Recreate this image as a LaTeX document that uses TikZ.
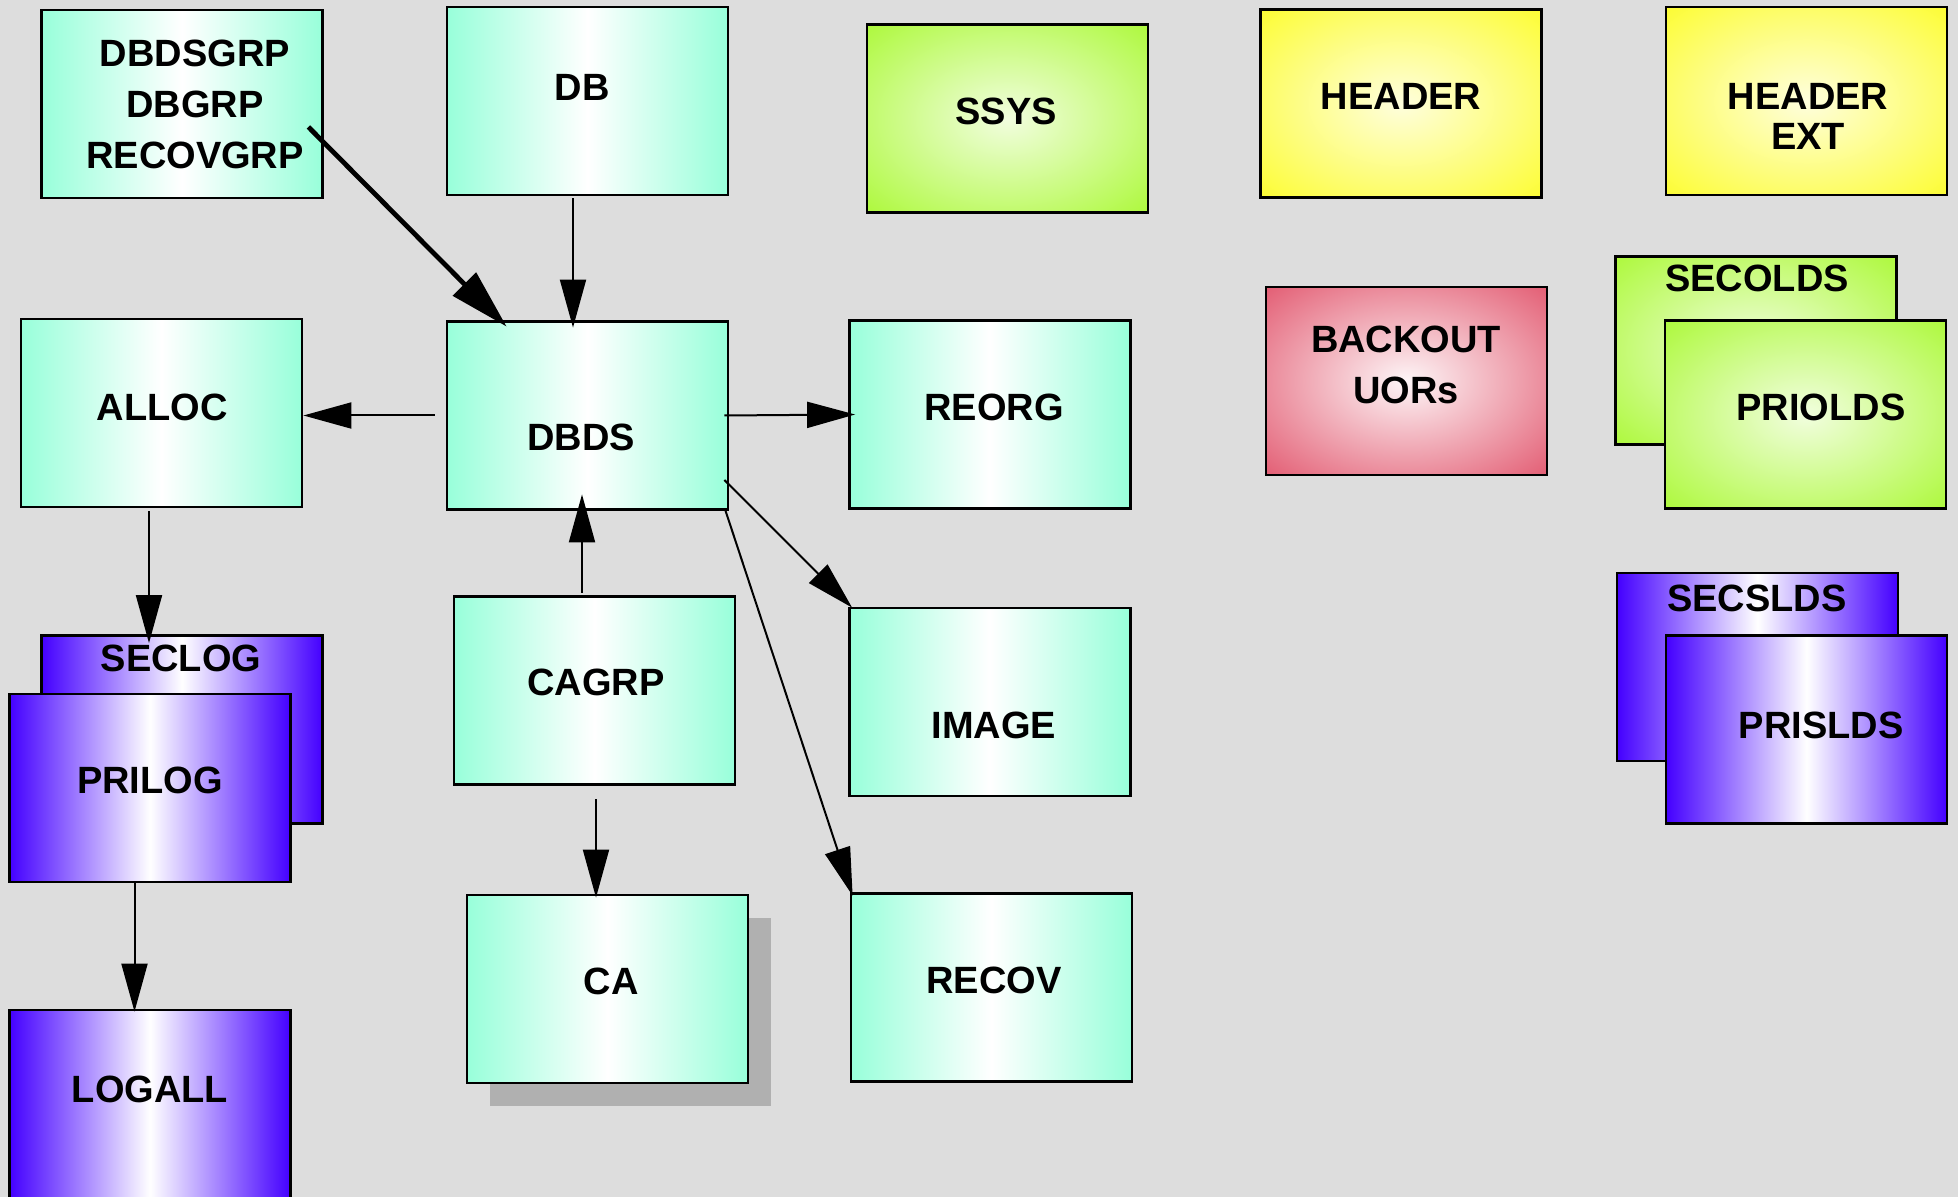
\documentclass[tikz,border=0pt]{standalone}
\usepackage{fontspec}
\setmainfont{Liberation Sans}
\usetikzlibrary{arrows.meta,calc}

\definecolor{bgray}{RGB}{221,221,221}
\definecolor{aqua}{RGB}{152,255,218}
\definecolor{logblue}{RGB}{68,0,255}
\definecolor{oldsgreen}{RGB}{165,248,40}
\definecolor{hdryellow}{RGB}{252,252,30}
\definecolor{uorred}{RGB}{222,66,92}
\definecolor{shadowgray}{RGB}{176,176,176}
\colorlet{oldsin}{oldsgreen!15!white}
\colorlet{hdrin}{hdryellow!15!white}
\colorlet{uorin}{uorred!5!white}

\pgfdeclareradialshading{greenglow}{\pgfpoint{0bp}{0bp}}{color(0bp)=(oldsin); color(40bp)=(oldsgreen); color(100bp)=(oldsgreen)}
\pgfdeclareradialshading{yellowglow}{\pgfpoint{0bp}{0bp}}{color(0bp)=(hdrin); color(40bp)=(hdryellow); color(100bp)=(hdryellow)}
\pgfdeclareradialshading{redglow}{\pgfpoint{0bp}{0bp}}{color(0bp)=(uorin); color(42bp)=(uorred); color(100bp)=(uorred)}

\begin{document}
\begin{tikzpicture}[x=0.5pt, y=-0.5pt,
  box/.style={draw, line width=1.4pt, inner sep=0pt, minimum width=140.5pt, minimum height=94pt},
  tealbox/.style={box, left color=aqua, right color=aqua, middle color=white},
  logbox/.style={box, left color=logblue, right color=logblue, middle color=white},
  oldsbox/.style={box, shade, shading=greenglow},
  hdrbox/.style={box, shade, shading=yellowglow},
  uorbox/.style={box, shade, shading=redglow},
  lbl/.style={font=\fontsize{19}{25.5}\selectfont\bfseries, align=center, inner sep=0pt},
  arr/.style={-{Triangle[length=24pt,width=13pt]}, line width=1pt},
  bigarr/.style={-{Triangle[length=30pt,width=16pt]}, line width=2.4pt}]

  \useasboundingbox (0,0) rectangle (1958,1197);
  \clip (0,0) rectangle (1958,1197);
  \fill[bgray] (0,0) rectangle (1958,1197);

  %% top row
  \node[tealbox] (dbdsgrp) at (182,104) {};
  \node[lbl, text depth=0pt] (t-dbdsgrp) at (195,104.5) {DBDSGRP\\DBGRP\\RECOVGRP};
  \node[tealbox] (db) at (587.5,101) {};
  \node[lbl] (t-db) at (582,87) {DB};
  \node[oldsbox] (ssys) at (1007.5,118.5) {};
  \node[lbl] (t-ssys) at (1006,111) {SSYS};
  \node[hdrbox] (header) at (1401,103.5) {};
  \node[lbl] (t-header) at (1401,96) {HEADER};
  \node[hdrbox] (headerext) at (1806.5,101) {};
  \node[lbl, font=\fontsize{19}{20}\selectfont\bfseries] (t-headerext) at (1808,116) {HEADER\\EXT};

  %% middle row
  \node[tealbox] (alloc) at (161.5,413) {};
  \node[lbl] (t-alloc) at (162,407) {ALLOC};
  \node[tealbox] (dbds) at (587.5,415.5) {};
  \node[lbl] (t-dbds) at (581,437) {DBDS};
  \node[tealbox] (reorg) at (990,414.5) {};
  \node[lbl] (t-reorg) at (994,407) {REORG};
  \node[uorbox] (backout) at (1406.5,381) {};
  \node[lbl] (t-backout) at (1406,365) {BACKOUT\\UORs};
  \node[oldsbox] (secolds) at (1756,350.5) {};
  \node[lbl] (t-secolds) at (1757,278) {SECOLDS};
  \node[oldsbox] (priolds) at (1805.5,414.5) {};
  \node[lbl] (t-priolds) at (1821,407) {PRIOLDS};

  %% lower rows
  \node[logbox] (seclog) at (182,729.5) {};
  \node[lbl] (t-seclog) at (181,658) {SECLOG};
  \node[logbox] (prilog) at (150,788) {};
  \node[lbl] (t-prilog) at (150,780) {PRILOG};
  \node[tealbox] (cagrp) at (594.5,690.5) {};
  \node[lbl] (t-cagrp) at (596,682) {CAGRP};
  \node[tealbox] (image) at (990,702) {};
  \node[lbl] (t-image) at (994,725) {IMAGE};
  \node[logbox] (secslds) at (1757.5,667) {};
  \node[lbl] (t-secslds) at (1757,598) {SECSLDS};
  \node[logbox] (prislds) at (1806.5,729.5) {};
  \node[lbl] (t-prislds) at (1821,725) {PRISLDS};
  \node[box, draw=none, fill=shadowgray] (cashadow) at (630,1012) {};
  \node[tealbox] (ca) at (607.5,989) {};
  \node[lbl] (t-ca) at (611,981) {CA};
  \node[tealbox] (recov) at (991.5,987.5) {};
  \node[lbl] (t-recov) at (994,980) {RECOV};
  \node[logbox] (logall) at (150,1104) {};
  \node[lbl] (t-logall) at (150,1089) {LOGALL};

  %% connectors
  \draw[bigarr] ($(dbdsgrp.east)+(-15.5,23)$) -- ($(dbds.north west)+(61,6.5)$);
  \draw[arr] ($(db.south)+(-14.5,2)$) -- ($(dbds.north)+(-14.5,7.5)$);
  \draw[arr] ($(dbds.west)+(-11,0)$) -- (alloc.east |- dbds.west);
  \draw[arr] ($(dbds.east)+(-5,0)$) -- ($(reorg.west)+(7,0)$);
  \draw[arr] ($(dbds.east)+(-5,64.5)$) -- ($(image.north west)+(4,1)$);
  \draw[arr] ($(dbds.south east)+(-4,-0.5)$) -- ($(recov.north west)+(3,3.5)$);
  \draw[arr] ($(cagrp.north)+(-12.5,-2.5)$) -- ($(dbds.south)+(-5.5,-16.5)$);
  \draw[arr] ($(cagrp.south)+(1.5,13.5)$) -- ($(ca.north)+(-11.5,4)$);
  \draw[arr] ($(alloc.south)+(-12.5,3)$) -- ($(seclog.north)+(-33,9)$);
  \draw[arr] ($(prilog.south)+(-15.5,-1)$) -- ($(logall.north)+(-15.5,3)$);
\end{tikzpicture}
\end{document}
